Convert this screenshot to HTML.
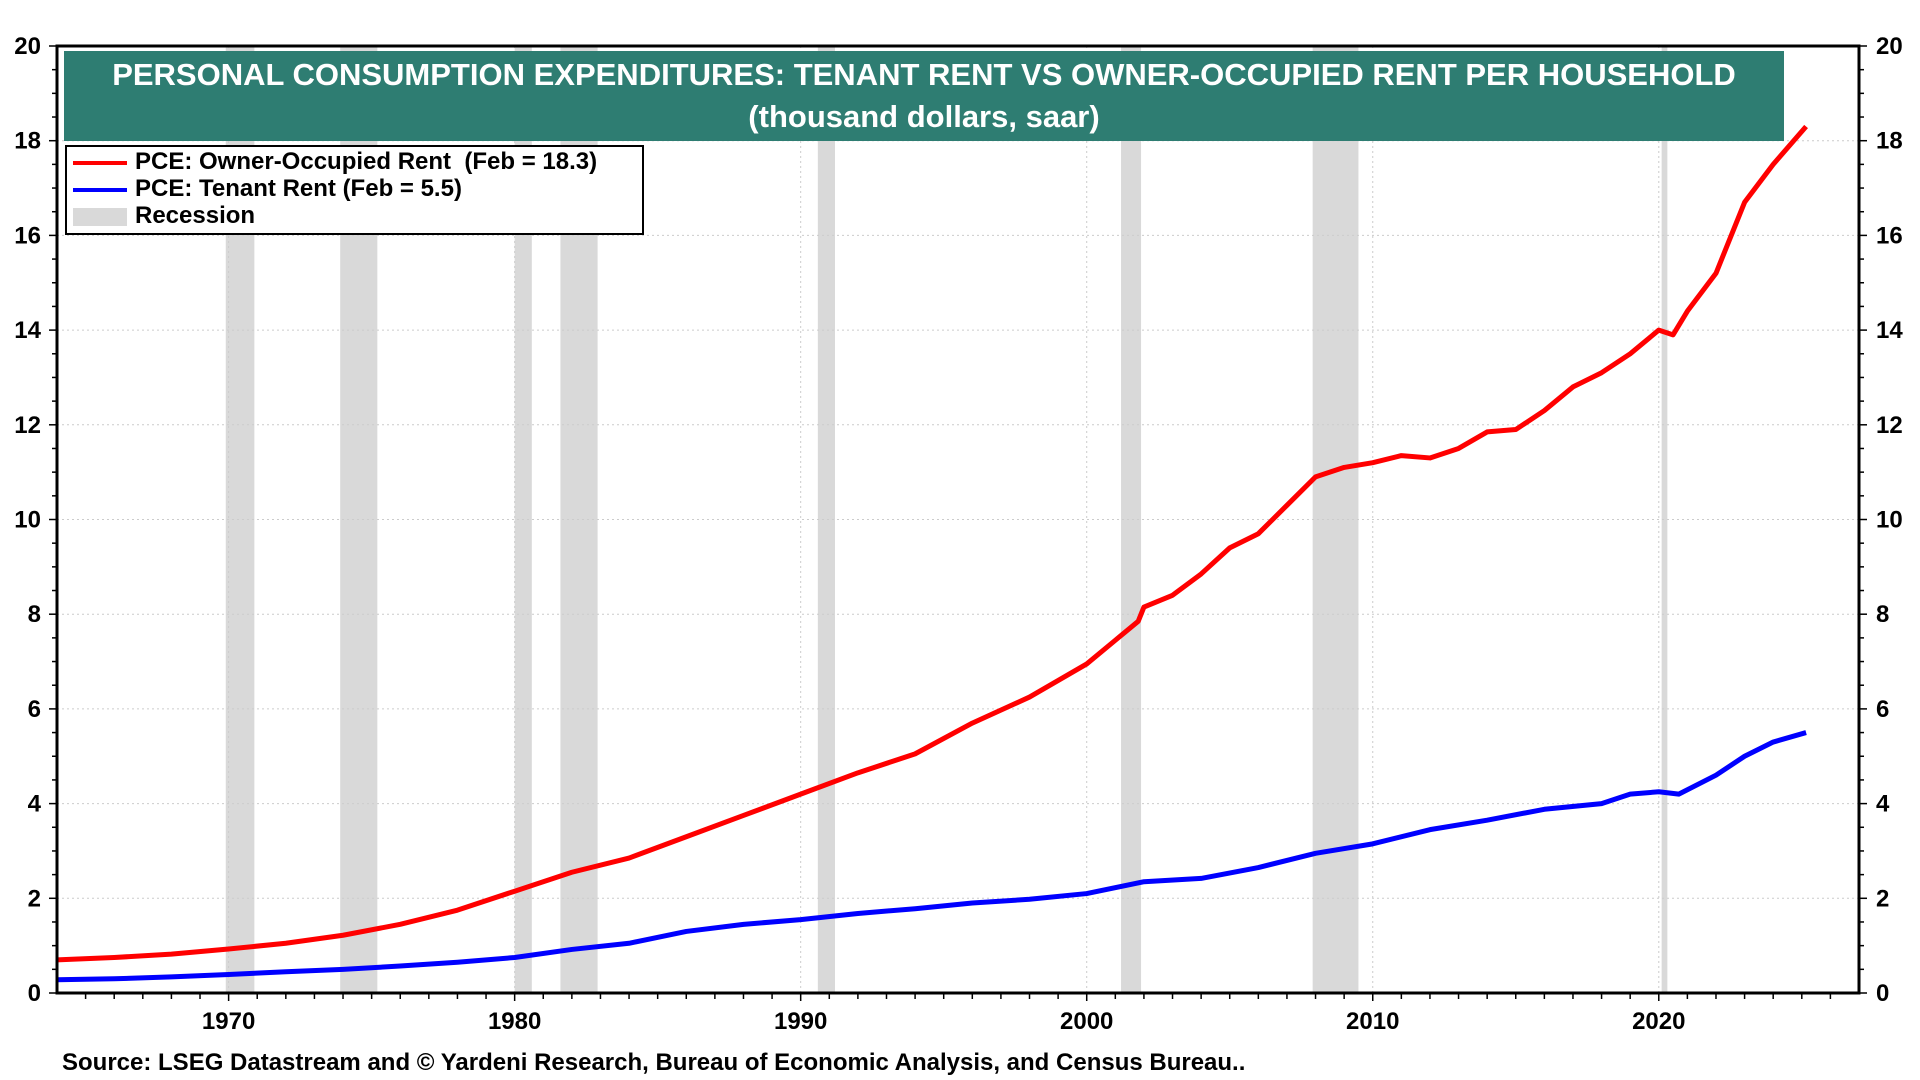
<!DOCTYPE html>
<html><head><meta charset="utf-8"><style>
html,body{margin:0;padding:0;background:#fff;width:1920px;height:1080px;overflow:hidden}
svg{display:block;font-family:"Liberation Sans",Arial,sans-serif;font-weight:bold}
</style></head><body>
<svg id="chart" width="1920" height="1080"></svg>
<script>
const years=[1964,1966,1968,1970,1972,1974,1976,1978,1980,1982,1984,1986,1988,1990,1992,1994,1996,1998,2000,2001,2001.8,2002,2003,2004,2005,2006,2007,2008,2009,2010,2011,2012,2013,2014,2015,2016,2017,2018,2019,2020,2020.5,2021,2022,2023,2024,2025.15];
const ownerRent=[0.7,0.75,0.82,0.93,1.05,1.22,1.45,1.75,2.15,2.55,2.85,3.3,3.75,4.2,4.65,5.05,5.7,6.25,6.95,7.45,7.85,8.15,8.4,8.85,9.4,9.7,10.3,10.9,11.1,11.2,11.35,11.3,11.5,11.85,11.9,12.3,12.8,13.1,13.5,14.0,13.9,14.4,15.2,16.7,17.5,18.3];
const tenantYears=[1964,1966,1968,1970,1972,1974,1976,1978,1980,1982,1984,1986,1988,1990,1992,1994,1996,1998,2000,2002,2004,2006,2008,2010,2012,2014,2016,2018,2019,2020,2020.7,2022,2023,2024,2025.15];
const tenantRent=[0.28,0.3,0.34,0.39,0.45,0.5,0.57,0.65,0.75,0.92,1.05,1.3,1.45,1.55,1.68,1.78,1.9,1.98,2.1,2.35,2.42,2.65,2.95,3.15,3.45,3.65,3.88,4.0,4.2,4.25,4.2,4.6,5.0,5.3,5.5];
const recStart=[1969.9,1973.9,1980.0,1981.6,1990.6,2001.2,2007.9,2020.1];
const recEnd=[1970.9,1975.2,1980.6,1982.9,1991.2,2001.9,2009.5,2020.3];
const yTicks=[0,2,4,6,8,10,12,14,16,18,20];
const xTicks=[1970,1980,1990,2000,2010,2020];

const L=57,R=1859,T=46,B=993,X0=1964,X1=2027;
const sx=v=>L+(v-X0)/(X1-X0)*(R-L);
const sy=v=>B-v/20*(B-T);
const svg=document.getElementById('chart');
const NS='http://www.w3.org/2000/svg';
function mk(tag,attrs,parent){const e=document.createElementNS(NS,tag);for(const k in attrs)e.setAttribute(k,attrs[k]);(parent||svg).appendChild(e);return e;}

recStart.forEach((s,i)=>{
  const r=mk('rect',{x:sx(s),y:T,width:sx(recEnd[i])-sx(s),height:B-T,fill:'#d9d9d9'});
  
  
});
yTicks.forEach(v=>{if(v>0&&v<20){const g=mk('line',{x1:L,x2:R,y1:sy(v),y2:sy(v),stroke:'#ccc','stroke-dasharray':'2,3','stroke-width':1});

}});
xTicks.forEach(v=>{const g=mk('line',{x1:sx(v),x2:sx(v),y1:T,y2:B,stroke:'#ccc','stroke-dasharray':'2,3','stroke-width':1});

});
function line(xs,ys,color,name){
  const p=mk('polyline',{points:xs.map((x,i)=>sx(x)+','+sy(ys[i])).join(' '),fill:'none',stroke:color,'stroke-width':5,'stroke-linejoin':'round'});
  
  
}
line(tenantYears,tenantRent,'#0000ff','tenant-rent-line');
line(years,ownerRent,'#ff0000','owner-occupied-rent-line');
const f=mk('rect',{x:L,y:T,width:R-L,height:B-T,fill:'none',stroke:'#000','stroke-width':3});


for(let v=0;v<=20;v+=0.5){
  const len=(v%2===0)?8:5;
  mk('line',{x1:L-len,x2:L,y1:sy(v),y2:sy(v),stroke:'#000','stroke-width':1.5});
  mk('line',{x1:R,x2:R+len,y1:sy(v),y2:sy(v),stroke:'#000','stroke-width':1.5});
}
yTicks.forEach(v=>{
  const a=mk('text',{x:41,y:sy(v)+8,'text-anchor':'end','font-size':24});a.textContent=v;
  
  
  const b=mk('text',{x:1876,y:sy(v)+8,'font-size':24});b.textContent=v;
  
  
});
for(let y=1965;y<=2026;y++)mk('line',{x1:sx(y),x2:sx(y),y1:B,y2:B+(y%10===0?8:6),stroke:'#000','stroke-width':1.5});
xTicks.forEach(v=>{const t=mk('text',{x:sx(v),y:1029,'text-anchor':'middle','font-size':24});t.textContent=v;

});
</script>
<div style="position:absolute;left:64px;top:51px;width:1720px;height:90px;background:#2e7d72;color:#fff;font-family:'Liberation Sans',Arial,sans-serif;font-weight:bold;font-size:31px;text-align:center;line-height:42px;padding-top:3px;box-sizing:border-box">PERSONAL CONSUMPTION EXPENDITURES: TENANT RENT VS OWNER-OCCUPIED RENT PER HOUSEHOLD<br>(thousand dollars, saar)</div>
<div style="position:absolute;left:65px;top:145px;width:579px;height:90px;background:#fff;border:2.5px solid #000;box-sizing:border-box;font-family:'Liberation Sans',Arial,sans-serif;font-weight:bold;font-size:24px;color:#000">
<div style="position:absolute;left:6px;top:1px;white-space:pre"><span style="display:inline-block;width:54px;height:4px;background:#f00;vertical-align:middle;margin-right:8px"></span>PCE: Owner-Occupied Rent  (Feb = 18.3)</div>
<div style="position:absolute;left:6px;top:28px;white-space:pre"><span style="display:inline-block;width:54px;height:4px;background:#00f;vertical-align:middle;margin-right:8px"></span>PCE: Tenant Rent (Feb = 5.5)</div>
<div style="position:absolute;left:6px;top:55px"><span style="display:inline-block;width:54px;height:18px;background:#d9d9d9;vertical-align:middle;margin-right:8px"></span>Recession</div>
</div>
<div style="position:absolute;left:62px;top:1049px;font-family:'Liberation Sans',Arial,sans-serif;font-weight:bold;font-size:24px;color:#000;white-space:nowrap">Source: LSEG Datastream and © Yardeni Research, Bureau of Economic Analysis, and Census Bureau..</div>
</body></html>
